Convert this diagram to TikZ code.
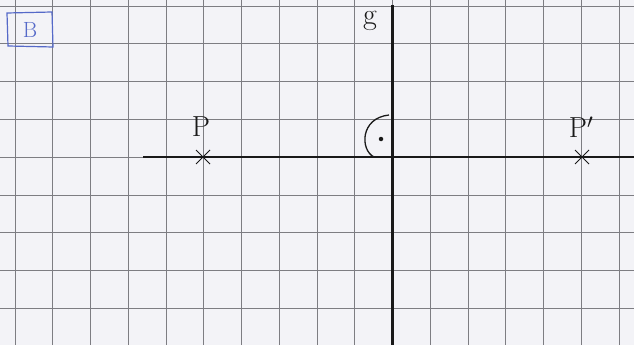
\documentclass[tikz,border=0pt]{standalone}
\usetikzlibrary{calc}
\definecolor{paper}{RGB}{243,243,247}
\definecolor{gridc}{RGB}{125,125,130}
\definecolor{inkblue}{RGB}{85,105,200}
\definecolor{ink}{RGB}{25,25,25}
\tikzset{
  gridline/.style={draw=gridc, line width=0.9pt},
  axisline/.style={draw=ink, line width=2.3pt},
  xmark/.style={draw=ink, line width=1pt},
  handlabel/.style={text=ink, inner sep=0pt, font=\fontsize{29}{29}\selectfont},
}
\begin{document}
\begin{tikzpicture}[x=1pt,y=-1pt]
\useasboundingbox (0,0) rectangle (634,345);
\fill[paper] (0,0) rectangle (634,345);
% grid
\foreach \i in {0,...,16} {
  \draw[gridline] ({15+37.75*\i},0) -- ({15+37.75*\i},345);
}
\foreach \j in {0,...,9} {
  \draw[gridline] (0,{6+37.8*\j}) -- (634,{6+37.8*\j});
}
% axis lines
\coordinate (gtop) at (392.5,5);
\coordinate (gbot) at (392.5,345);
\coordinate (hl) at (143,157);
\coordinate (hr) at (634,157);
\draw[axisline] (gtop) -- (gbot);
\draw[axisline] (hl) -- (hr);
% points
\coordinate (P) at (203,157);
\coordinate (Pp) at (582,157);
\foreach \p in {P,Pp} {
  \draw[xmark] ($(\p)+(-7,-7)$) -- ($(\p)+(7,7)$);
  \draw[xmark] ($(\p)+(-7,7)$) -- ($(\p)+(7,-7)$);
}
\node[handlabel] (lP) at (201,127) {P};
\node[handlabel] (lPp) at (581,127) {P$'$};
\node[handlabel, anchor=north, font=\fontsize{30}{30}\selectfont] (lg) at (370,11) {g};
% right angle mark
\draw[draw=ink, line width=1.3pt] (389,115) .. controls (360,118) and (360,150) .. (374,157);
\node[circle, fill=ink, inner sep=0pt, minimum size=4.5pt] (dot) at (381,139) {};
% B box
\draw[draw=inkblue, line width=1.2pt] (7,13) -- (52,12) -- (53,47) -- (8,46) -- cycle;
\node[text=inkblue, inner sep=0pt, font=\fontsize{22}{22}\selectfont] (lB) at (30,30) {B};
\end{tikzpicture}
\end{document}
